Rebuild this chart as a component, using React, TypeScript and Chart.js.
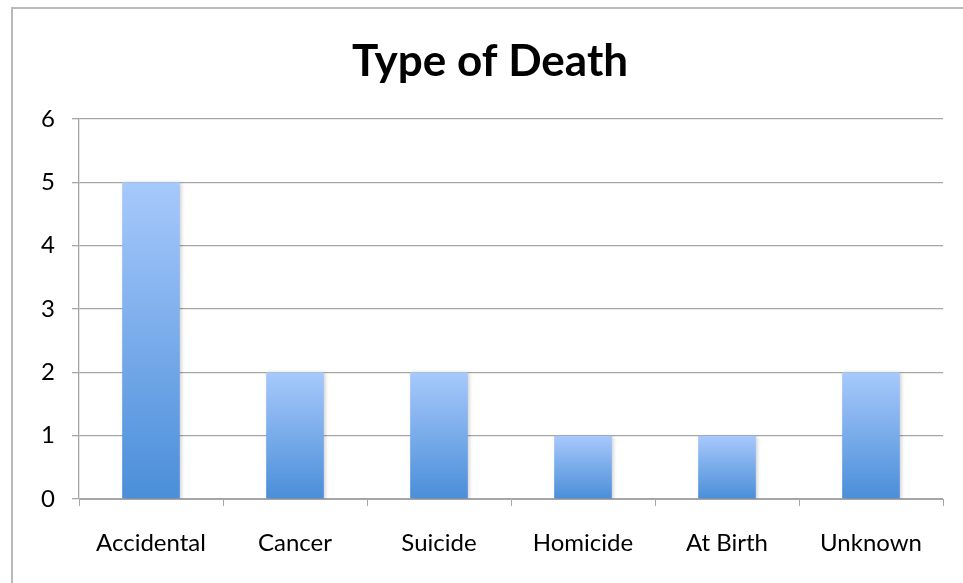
import React, { useEffect, useRef } from "react";
import { Chart, registerables } from "chart.js";

Chart.register(...registerables);

const categories = ["Accidental", "Cancer", "Suicide", "Homicide", "At Birth", "Unknown"];
const counts = [5, 2, 2, 1, 1, 2];
const titleText = "Type of Death";

const FONT = "Lato";
const GRID = "#a6a6a6";

export default function App() {
  const ref = useRef<HTMLCanvasElement | null>(null);

  useEffect(() => {
    document.body.style.margin = "0";
    const canvas = ref.current;
    if (!canvas) return;

    const shadowPlugin = {
      id: "barShadow",
      beforeDatasetsDraw(chart: any) {
        const c = chart.ctx;
        c.save();
        c.shadowColor = "rgba(0,0,0,0.22)";
        c.shadowBlur = 4;
        c.shadowOffsetX = 1.5;
        c.shadowOffsetY = 1;
      },
      afterDatasetsDraw(chart: any) {
        chart.ctx.restore();
      },
    };

    const chart = new Chart(canvas, {
      type: "bar",
      data: {
        labels: categories,
        datasets: [
          {
            data: counts,
            categoryPercentage: 1,
            barPercentage: 0.4,
            borderWidth: 0,
            backgroundColor: (ctx: any) => {
              const ch = ctx.chart;
              const area = ch.chartArea;
              if (!area || ctx.type !== "data") return "#6fa3e8";
              const y = ch.scales.y;
              const v = ctx.raw as number;
              const top = y.getPixelForValue(v);
              const bottom = y.getPixelForValue(0);
              const g = ch.ctx.createLinearGradient(0, top, 0, bottom);
              g.addColorStop(0, "#a7c9fc");
              g.addColorStop(1, "#4a8ed9");
              return g;
            },
          },
        ],
      },
      options: {
        responsive: false,
        animation: false,
        devicePixelRatio: 1,
        layout: { padding: { left: 37, right: 20, top: 0, bottom: 24 } },
        plugins: {
          legend: { display: false },
          tooltip: { enabled: false },
          title: {
            display: true,
            text: titleText,
            color: "#000",
            font: { family: FONT, size: 44, weight: "bold" },
            padding: { top: 35.6, bottom: 30.6 },
          },
        },
        scales: {
          x: {
            afterFit: (s: any) => {
              s.height = 60;
            },
            grid: {
              display: true,
              drawOnChartArea: false,
              drawTicks: true,
              tickLength: 7,
              color: GRID,
              offset: true,
            },
            border: { display: true, color: GRID, width: 1 },
            ticks: {
              color: "#000",
              font: { family: FONT, size: 24 },
              padding: 23,
              maxRotation: 0,
            },
          },
          y: {
            min: 0,
            max: 6,
            afterFit: (s: any) => {
              s.width = 42;
            },
            grid: { color: GRID, tickLength: 7, lineWidth: 1.3 },
            border: { display: true, color: GRID, width: 1.3 },
            ticks: {
              stepSize: 1,
              color: "#000",
              font: { family: FONT, size: 24 },
              padding: 17,
            },
          },
        },
      },
      plugins: [shadowPlugin],
    } as any);

    return () => chart.destroy();
  }, []);

  return (
    <div style={{ position: "relative", width: 963, height: 583, overflow: "hidden", background: "#fff" }}>
      <div
        style={{
          position: "absolute",
          left: 11,
          top: 7,
          width: 1000,
          height: 1000,
          border: "2px solid #b9b9b9",
          boxSizing: "border-box",
        }}
      />
      <canvas ref={ref} width={963} height={583} style={{ position: "absolute", left: 0, top: 0, width: 963, height: 583 }} />
    </div>
  );
}
